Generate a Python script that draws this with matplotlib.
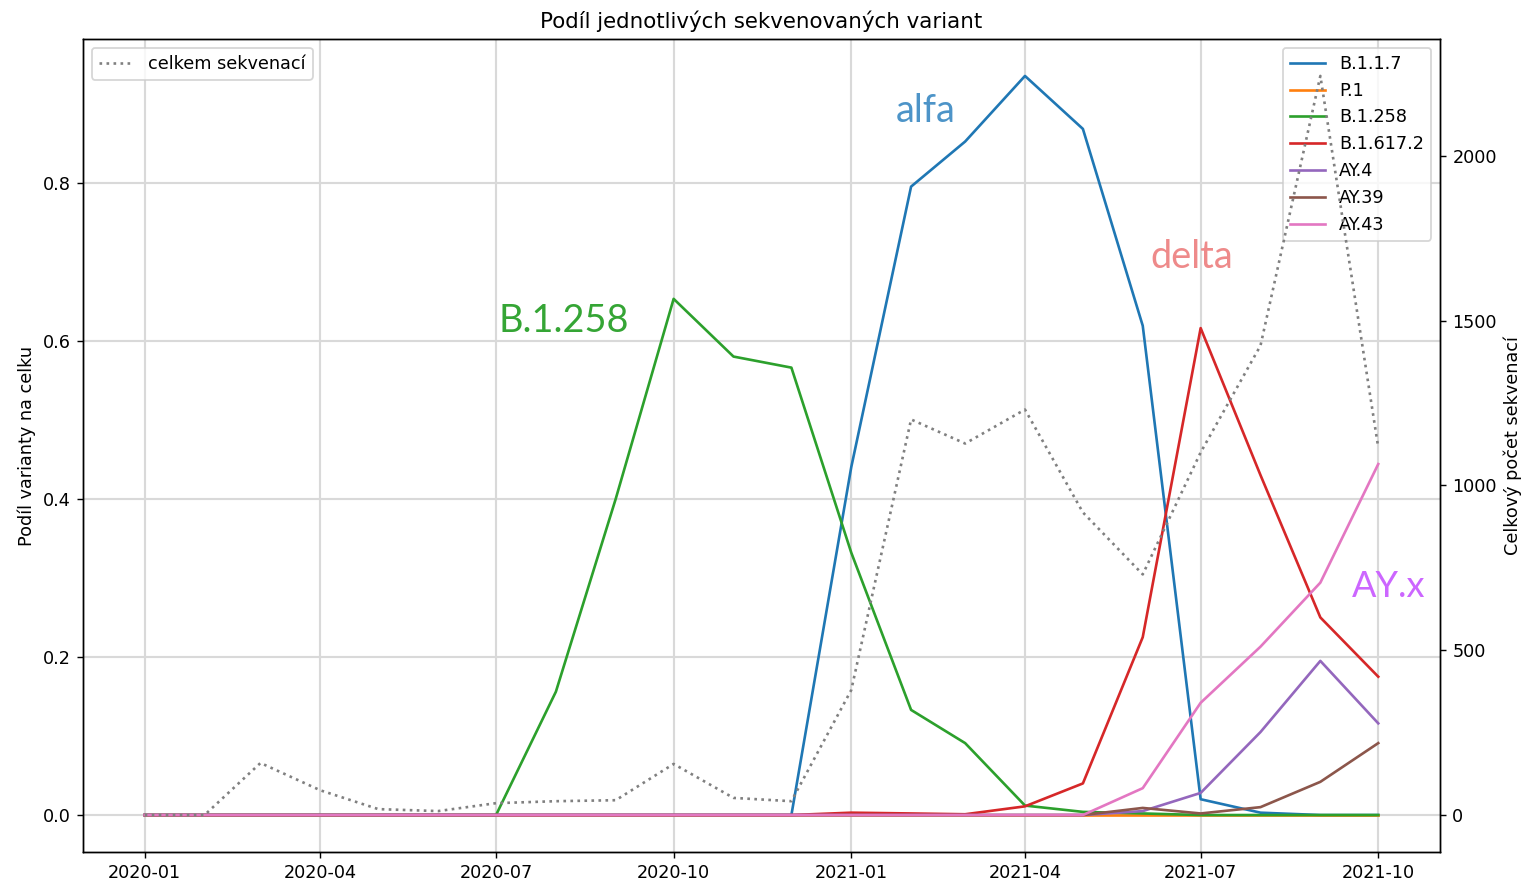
import pandas as pd
import numpy as np
import matplotlib
matplotlib.use('Agg')
import matplotlib.pyplot as plt
import matplotlib.dates as mdates

months = pd.date_range('2020-01-01', '2021-10-01', freq='MS')

# podil variant (mesicne, 2020-01 .. 2021-10)
b117 = [0, 0, 0, 0, 0, 0, 0, 0, 0, 0, 0, 0,
        0.44, 0.795, 0.852, 0.935, 0.868, 0.619, 0.02, 0.003, 0, 0]
p1 = [0]*22
b1258 = [0, 0, 0, 0, 0, 0, 0, 0.156, 0.40, 0.653, 0.58, 0.566,
         0.332, 0.133, 0.091, 0.012, 0.004, 0.002, 0, 0, 0, 0]
b16172 = [0, 0, 0, 0, 0, 0, 0, 0, 0, 0, 0, 0,
          0.003, 0.002, 0.001, 0.011, 0.04, 0.225, 0.616, 0.43, 0.25, 0.175]
ay4 = [0, 0, 0, 0, 0, 0, 0, 0, 0, 0, 0, 0,
       0, 0, 0, 0, 0, 0.005, 0.028, 0.105, 0.195, 0.116]
ay39 = [0, 0, 0, 0, 0, 0, 0, 0, 0, 0, 0, 0,
        0, 0, 0, 0, 0, 0.009, 0.002, 0.01, 0.042, 0.091]
ay43 = [0, 0, 0, 0, 0, 0, 0, 0, 0, 0, 0, 0,
        0, 0, 0, 0, 0, 0.034, 0.142, 0.213, 0.294, 0.444]
total = [0, 0, 158, 75, 18, 12, 36, 42, 45, 155, 52, 42,
         379, 1200, 1127, 1230, 918, 730, 1100, 1424, 2242, 1115]

data = pd.DataFrame({'B.1.1.7': b117, 'P.1': p1, 'B.1.258': b1258,
                     'B.1.617.2': b16172, 'AY.4': ay4, 'AY.39': ay39,
                     'AY.43': ay43}, index=months)

fig = plt.figure(figsize=(1526/127, 884/127), dpi=127)
ax = fig.add_axes([0.0544, 0.0362, 0.8892, 0.9197])

for col in data.columns:
    ax.plot(data.index, data[col], label=col)
ax.grid(True, color='#d9d9d9', linewidth=1.2)
ax.set_ylabel('Podíl varianty na celku')
ax.legend(loc='upper right')
ax.set_title('Podíl jednotlivých sekvenovaných variant', fontsize=12.1)

ax2 = ax.twinx()
ax2.plot(months, total, ':', color='gray', label='celkem sekvenací')
ax2.set_ylabel('Celkový počet sekvenací')
ax2.legend(loc='upper left')

ax.xaxis.set_major_locator(mdates.MonthLocator(bymonth=[1, 4, 7, 10]))
ax.xaxis.set_major_formatter(mdates.DateFormatter('%Y-%m'))

# popisky doplnene rucne
fig.text(896/1526, 1-122/884, 'alfa', color='#4d94c8', fontsize=21.5, family='Lato', va='baseline')
fig.text(498/1526, 1-332/884, 'B.1.258', color='#35a535', fontsize=21.5, family='Lato', va='baseline')
fig.text(1150/1526, 1-268/884, 'delta', color='#ee8a8a', fontsize=21.5, family='Lato', va='baseline')
fig.text(1352/1526, 1-597/884, 'AY.x', color='#cc66ff', fontsize=20.5, family='Lato', va='baseline')

fig.savefig('out.png', dpi=127)
